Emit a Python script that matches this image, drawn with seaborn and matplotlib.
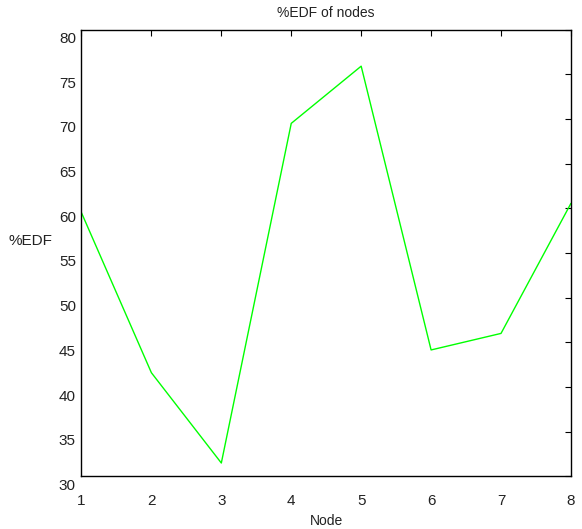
import matplotlib
matplotlib.use("Agg")
import matplotlib.pyplot as plt
import matplotlib.transforms as mtransforms
import seaborn as sns
import pandas as pd

nodes = [1, 2, 3, 4, 5, 6, 7, 8]
edf = [59.5, 41.6, 31.5, 69.5, 75.9, 44.15, 46.0, 60.55]
yticks = [30, 35, 40, 45, 50, 55, 60, 65, 70, 75, 80]

sns.set_theme(style="white")
plt.rcParams['font.family'] = ['Liberation Sans', 'DejaVu Sans']

df = pd.DataFrame({"Node": nodes, "EDF": edf})

fig = plt.figure(figsize=(5.82, 5.29), dpi=100)
ax = fig.add_axes([0.140, 0.0994, 0.841, 0.8448])
sns.lineplot(data=df, x="Node", y="EDF", ax=ax, color=(0, 1, 0), linewidth=1.0)

ax.set_xlim(1, 8)
ax.set_ylim(30, 80)
ax.set_xticks(nodes)
ax.set_yticks(yticks)
for s in ax.spines.values():
    s.set_color("black")
    s.set_linewidth(1.0)
ax.tick_params(direction="in", length=4, width=0.8, color="black",
               top=True, right=True, labelsize=11, labelcolor="#222222")
ax.tick_params(axis="x", pad=13)
ax.tick_params(axis="y", pad=4)
offset = mtransforms.ScaledTranslation(0, -8 / 100, fig.dpi_scale_trans)
for lab in ax.get_yticklabels():
    lab.set_transform(lab.get_transform() + offset)

ax.set_title("%EDF of nodes", fontsize=10, pad=9, color="#222222")
ax.set_xlabel("Node", fontsize=10, labelpad=4, color="#222222")
ax.set_ylabel("%EDF", fontsize=11, rotation=0, color="#222222")
ax.yaxis.set_label_coords(-0.105, 0.51)

fig.savefig("out.png", dpi=100)
